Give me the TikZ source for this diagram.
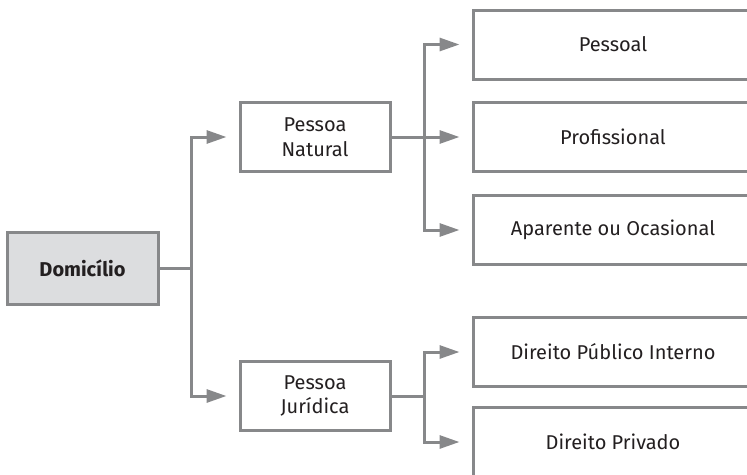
\documentclass[tikz,border=0pt]{standalone}
\usepackage{fontspec}
\setmainfont{Fira Sans}
\usetikzlibrary{arrows.meta}
\definecolor{linegray}{HTML}{87888A}
\definecolor{fillgray}{HTML}{DCDDDF}
\definecolor{textdark}{HTML}{231F20}
\begin{document}
\begin{tikzpicture}[x=1pt,y=-1pt,
  box/.style={draw=linegray, line width=3pt, minimum height=69pt, align=center,
    font=\fontsize{20}{24.5}\selectfont, text=textdark, inner sep=0pt},
  rbox/.style={box, minimum width=280pt},
  conn/.style={draw=linegray, line width=3pt},
  arr/.style={conn, -{Triangle[length=20pt,width=13pt]}, shorten >=12pt}]
\useasboundingbox (0,0) rectangle (747,474);
\clip (0,0) rectangle (747,474);
\node[box, fill=fillgray, minimum width=151pt, minimum height=72pt,
  font=\fontsize{20}{24.5}\selectfont\bfseries] (dom) at (82.5,268) {Domicílio};
\node[box, minimum width=150pt] (nat) at (315,137) {Pessoa\\Natural};
\node[box, minimum width=150pt] (jur) at (315,396) {Pessoa\\Jurídica};
\node[rbox] (pes) at (613,44.5) {Pessoal};
\node[rbox] (pro) at (613,137) {Profissional};
\node[rbox] (apa) at (613,230) {Aparente ou Ocasional};
\node[rbox] (pub) at (613,352) {Direito Público Interno};
\node[rbox] (pri) at (613,442) {Direito Privado};
\coordinate (j1) at (191,268);
\coordinate (j2) at (424,137);
\coordinate (j3) at (424,396);
\draw[conn] (dom.east) -- (j1);
\draw[arr] (j1) |- (nat.west);
\draw[arr] (j1) |- (jur.west);
\draw[conn] (nat.east) -- (j2);
\draw[arr] (j2) |- (pes.west);
\draw[arr] (nat.east) -- (pro.west);
\draw[arr] (j2) |- (apa.west);
\draw[conn] (jur.east) -- (j3);
\draw[arr] (j3) |- (pub.west);
\draw[arr] (j3) |- (pri.west);
\end{tikzpicture}
\end{document}
